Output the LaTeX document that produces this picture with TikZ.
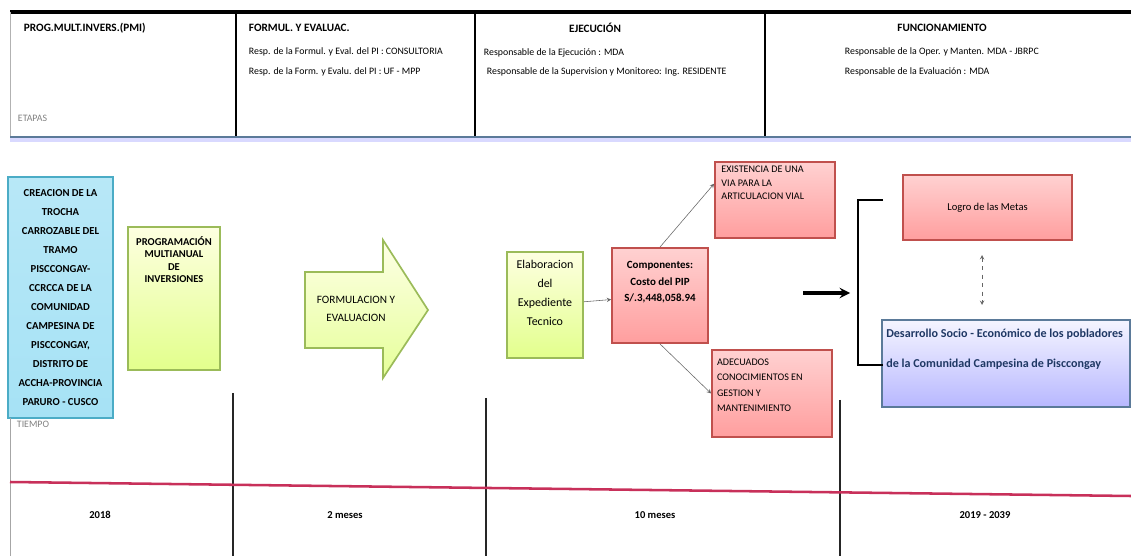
\documentclass[tikz,border=0pt]{standalone}
\usepackage{fontspec}
\setmainfont{Carlito}
\usepackage{xcolor}
\usepackage{tikz}
\usetikzlibrary{arrows,positioning,calc}

\definecolor{azulborde}{HTML}{4BACC6}
\definecolor{azulrelleno}{HTML}{A6E2F5}
\definecolor{verdeborde}{HTML}{9BBB59}
\definecolor{rojoborde}{HTML}{C0504D}
\definecolor{lineaazul}{HTML}{5B7A99}
\definecolor{azuloscuro}{HTML}{1F3864}
\definecolor{rosalinea}{HTML}{C8305A}

\tikzset{
  cajaazul/.style={draw=azulborde, line width=1.2pt, top color=azulrelleno!80, bottom color=azulrelleno, align=center, font=\fontsize{7.6}{13.5}\selectfont\bfseries},
  cajaverde/.style={draw=verdeborde, line width=1.2pt, top color=green!5!yellow!12, bottom color=green!25!yellow!45, align=center},
  cajaroja/.style={draw=rojoborde, line width=1.2pt, top color=red!18, bottom color=red!38},
  textoroja/.style={anchor=north west, align=left, inner sep=0pt},
  conector/.style={->, >=stealth, gray!80!black, thin},
  titulo/.style={font=\fontsize{8}{9}\selectfont\bfseries},
  resp/.style={font=\fontsize{7}{8}\selectfont, anchor=west},
  tiempo/.style={font=\fontsize{7.5}{8}\selectfont\bfseries}
}

\begin{document}
\begin{tikzpicture}[x=0.025cm, y=-0.025cm]
        \useasboundingbox (0,0) rectangle (1131,556);

        % Cabecera
        \draw[line width=2.2pt] (10,12) -- (1131,12);
        \draw[gray!60] (10,12) -- (10,137);
        \foreach \xc in {236,475,765}
          \draw[line width=1.3pt] (\xc,12) -- (\xc,137);
        \draw[line width=3pt, blue!15] (10,140) -- (1131,140);
        \draw[line width=1.8pt, lineaazul] (10,137) -- (1131,137);

        \node[titulo, anchor=west] (pmicab) at (19,28) {PROG.MULT.INVERS.(PMI)};
        \node[resp, gray] (etapas) at (13,118) {ETAPAS};

        \node[titulo, anchor=west] (formcab) at (244,28) {FORMUL. Y EVALUAC.};
        \node[resp] (formr1) at (244,52) {Resp. de la Formul. y Eval. del PI : CONSULTORIA};
        \node[resp] (formr2) at (244,72) {Resp. de la Form. y Evalu. del PI : UF - MPP};

        \node[titulo] (ejecab) at (595,28) {EJECUCIÓN};
        \node[resp] (ejer1) at (479,53) {Responsable de la Ejecución : MDA};
        \node[resp] (ejer2) at (482,72) {Responsable de la Supervision y Monitoreo: Ing. RESIDENTE};

        \node[titulo] (funcab) at (942,28) {FUNCIONAMIENTO};
        \node[resp] (funr1) at (840,52) {Responsable de la Oper. y Manten. MDA - JBRPC};
        \node[resp] (funr2) at (840,72) {Responsable de la Evaluación : MDA};

        % Proyecto y PMI
        \node[cajaazul, minimum width=2.63cm, minimum height=6.03cm] (proyecto) at (60.5,297.5)
          {CREACION DE LA\\TROCHA\\CARROZABLE DEL\\TRAMO\\PISCCONGAY-\\CCRCCA DE LA\\COMUNIDAD\\CAMPESINA DE\\PISCCONGAY,\\DISTRITO DE\\ACCHA-PROVINCIA\\PARURO - CUSCO};
        \node[resp, gray] (tiempolbl) at (12,424) {TIEMPO};

        \node[cajaverde, minimum width=2.3cm, minimum height=3.58cm] (pmi) at (174,298.5) {};
        \node[align=center, anchor=north, font=\fontsize{7.5}{8.8}\selectfont\bfseries] (pmitxt) at ([yshift=-4pt]pmi.north)
          {PROGRAMACIÓN\\MULTIANUAL\\DE\\INVERSIONES};

        % Formulacion
        \draw[verdeborde, line width=1.2pt, top color=green!5!yellow!10, bottom color=green!25!yellow!40]
          (305,272) -- (383,272) -- (383,240) -- (428,310) -- (383,378) -- (383,348) -- (305,348) -- cycle;
        \node[align=center, font=\fontsize{8}{13}\selectfont] (formul) at (356,309) {FORMULACION Y\\EVALUACION};

        % Ejecucion
        \node[cajaverde, minimum width=1.9cm, minimum height=2.65cm, font=\fontsize{8.5}{13.5}\selectfont] (exped) at (545,305)
          {Elaboracion\\del\\Expediente\\Tecnico\\[4pt]};
        \node[cajaroja, minimum width=2.4cm, minimum height=2.38cm, align=center, font=\fontsize{7.8}{12}\selectfont\bfseries] (comp) at (660,295.5)
          {Componentes:\\Costo del PIP\\S/.3,448,058.94\\[8pt]};
        \node[cajaroja, minimum width=3cm, minimum height=1.9cm] (via) at (775,200) {};
        \node[textoroja, font=\fontsize{7.2}{9.6}\selectfont] (viatxt) at ([xshift=5pt, yshift=-3.5pt]via.north west)
          {EXISTENCIA DE UNA\\VIA PARA LA\\ARTICULACION VIAL};
        \node[cajaroja, minimum width=3cm, minimum height=2.18cm] (gestion) at (772,393.5) {};
        \node[textoroja, font=\fontsize{7.2}{10.8}\selectfont] (gestiontxt) at ([xshift=4pt, yshift=-7pt]gestion.north west)
          {ADECUADOS\\CONOCIMIENTOS EN\\GESTION Y\\MANTENIMIENTO};

        \draw[conector] (exped) -- (comp);
        \draw[conector] (comp.north) -- (via.165);
        \draw[conector] (comp.south) -- (gestion.west);

        % Funcionamiento
        \coordinate (flechaA) at (803,293);
        \coordinate (flechaB) at (850,293);
        \draw[->, >=stealth, line width=2.2pt] (flechaA) -- (flechaB);

        \node[cajaroja, minimum width=4.23cm, minimum height=1.63cm, font=\fontsize{7.5}{8}\selectfont] (metas) at (987.5,207.5) {Logro de las Metas};
        \node[draw=lineaazul, line width=1.2pt, top color=blue!4, bottom color=blue!28, minimum width=6.2cm, minimum height=2.18cm] (desarrollo) at (1006,363.5) {};
        \node[anchor=north west, align=left, text=azuloscuro, inner sep=0pt, font=\fontsize{8.6}{21}\selectfont\bfseries] (desatxt) at (886,329)
          {Desarrollo Socio - Económico de los pobladores\\de la Comunidad Campesina de Pisccongay};
        \draw[<->, >=stealth, gray!80!black, dashed, shorten >=10pt, shorten <=10pt] (metas.south -| 982,0) -- (desarrollo.north -| 982,0);

        \coordinate (corchA) at (883,200);
        \coordinate (corchB) at (858,200);
        \coordinate (corchC) at (858,365);
        \coordinate (corchD) at (883,365);
        \draw[line width=1.8pt] (corchA) -- (corchB) -- (corchC) -- (corchD);

        % Tiempos
        \draw[gray!70] (10,418) -- (10,556);
        \foreach \xc/\yc in {233/393,486/398,840/400}
          \draw[gray!30!black, line width=0.9pt] (\xc,\yc) -- (\xc,556);
        \draw[rosalinea, line width=1.8pt] (10,482) -- (1131,496);

        \node[tiempo] (t1) at (100,515) {2018};
        \node[tiempo] (t2) at (345,515) {2 meses};
        \node[tiempo] (t3) at (655,515) {10 meses};
        \node[tiempo] (t4) at (985,515) {2019 - 2039};
      \end{tikzpicture}
\end{document}
